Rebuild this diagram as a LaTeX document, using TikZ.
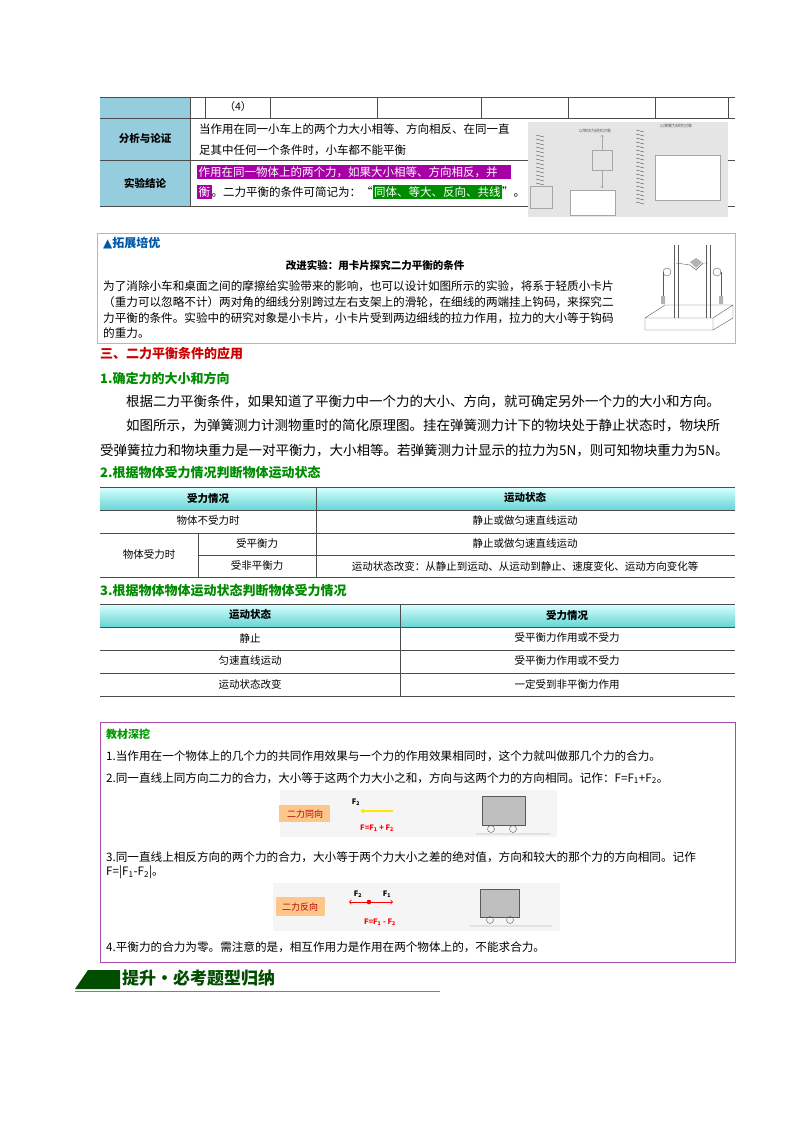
\documentclass[tikz,border=0pt]{standalone}
\usepackage{fontspec}
\setmainfont{Noto Sans CJK SC}
\newfontfamily\sym{DejaVu Sans}
\definecolor{lblue}{RGB}{150,205,222}
\colorlet{hlv}{violet!70!magenta}
\colorlet{hlg}{green!55!black}
\newcommand{\hlbox}[2]{{\setlength{\fboxsep}{1.5pt}\colorbox{#1}{\textcolor{white}{#2}}}}
\begin{document}
\begin{tikzpicture}[x=1pt,y=-1pt,
 txt/.style={anchor=west,inner sep=0,font=\fontsize{11.5}{13}\selectfont},
 btxt/.style={anchor=west,inner sep=0,font=\fontsize{11.6}{13}\selectfont},
 ptxt/.style={anchor=west,inner sep=0,font=\fontsize{13.5}{16}\selectfont},
 cell/.style={anchor=center,inner sep=0,font=\fontsize{10.5}{12}\selectfont},
 hd/.style={anchor=center,inner sep=0,font=\fontsize{10.5}{12}\selectfont\bfseries},
 grn/.style={anchor=west,inner sep=0,font=\fontsize{13}{15}\selectfont\bfseries,text=green!55!black},
 tline/.style={draw=gray!60!black,line width=0.6pt}]
\useasboundingbox (0,0) rectangle (800,1132);
% ---------- top table
\fill[lblue] (100,97) rectangle (190,206);
\draw[tline] (100,97) -- (735,97) (100,118) -- (735,118) (100,160) -- (735,160) (100,206) -- (735,206);
\draw[tline] (190,97) -- (190,206);
\foreach \x in {205,270,377,481,568,655,728} \draw[tline] (\x,97) -- (\x,118);
\node[cell] (n4) at (238,107) {（4）};
\node[hd] (fx) at (145,139) {分析与论证};
\node[hd] (jl) at (145,183) {实验结论};
\node[txt] (r2a) at (199,129) {当作用在同一小车上的两个力大小相等、方向相反、在同一直};
\node[txt] (r2b) at (199,150) {足其中任何一个条件时，小车都不能平衡};
\node[txt] (r3a) at (197,172) {\hlbox{hlv}{作用在同一物体上的两个力，如果大小相等、方向相反，并\rule{0pt}{0pt}\hspace{12pt}}};
\node[txt] (r3b) at (197,192) {\hlbox{hlv}{衡}。二力平衡的条件可简记为：“\hlbox{hlg}{同体、等大、反向、共线}”。};
% picture 1
\fill[gray!20] (528,122) rectangle (728,217);
\foreach \y in {135,139,...,185} \draw[gray!70!black] (536,\y) -- (544,\y+2);
\draw[gray!70] (530,186) rectangle (552,208);
\draw[gray!70] (592,150) rectangle (612,170);
\draw[gray!70,->] (602,150) -- (602,135);
\draw[gray!70,->] (602,170) -- (602,188);
\foreach \y in {130,134,...,205} \draw[gray!70!black] (636,\y) -- (644,\y+2);
\draw[gray!70,fill=white] (655,155) rectangle (720,200);
\draw[gray!70,fill=white] (570,190) rectangle (615,215);
\node[anchor=center,inner sep=0,font=\fontsize{4}{5}\selectfont,text=gray!70!black] (pl1) at (595,131) {以物块为研究对象};
\node[anchor=center,inner sep=0,font=\fontsize{4}{5}\selectfont,text=gray!70!black] (pl2) at (676,126) {以弹簧为研究对象};
% ---------- box 2
\draw[orange!70,line width=0.8pt] (97,233) rectangle (735,343);
\node[anchor=west,inner sep=0,font=\fontsize{12}{14}\selectfont\bfseries,text=teal!70!blue] (tz) at (103,243) {{\sym ▲}拓展培优};
\node[anchor=center,inner sep=0,font=\fontsize{10.5}{12}\selectfont\bfseries] (gj) at (375,265) {改进实验：用卡片探究二力平衡的条件};
\node[btxt] (p1) at (103,286) {为了消除小车和桌面之间的摩擦给实验带来的影响，也可以设计如图所示的实验，将系于轻质小卡片};
\node[btxt] (p2) at (103,302) {（重力可以忽略不计）两对角的细线分别跨过左右支架上的滑轮，在细线的两端挂上钩码，来探究二};
\node[btxt] (p3) at (103,318) {力平衡的条件。实验中的研究对象是小卡片，小卡片受到两边细线的拉力作用，拉力的大小等于钩码};
\node[btxt] (p4) at (103,333) {的重力。};
% apparatus
\draw[gray!70!black] (645,318) -- (665,305) -- (733,305) -- (733,318) -- (713,330) -- (645,330) -- cycle (645,318) -- (713,318) -- (733,305) (713,318) -- (713,330);
\draw[gray!70!black] (674,245) -- (674,318) (678,245) -- (678,318) (706,245) -- (706,318) (710,245) -- (710,318);
\draw[gray!70!black] (676,263) -- (690,265) -- (696,270) -- (703,263) -- (708,263);
\fill[gray!60] (690,262) -- (696,258) -- (702,262) -- (696,268) -- cycle;
\draw[gray!70!black] (667,272) circle (4) (717,272) circle (4);
\draw[gray!70!black] (663,272) -- (663,300) (721,272) -- (721,300);
\fill[gray!60] (661,296) rectangle (665,304) (719,296) rectangle (723,304);
% ---------- section 3
\node[anchor=west,inner sep=0,font=\fontsize{13}{15}\selectfont\bfseries,text=red!80!black] (s3) at (100,354) {三、二力平衡条件的应用};
\node[grn] (s31) at (100,378) {1.确定力的大小和方向};
\node[ptxt] (q1) at (126,402) {根据二力平衡条件，如果知道了平衡力中一个力的大小、方向，就可确定另外一个力的大小和方向。};
\node[ptxt] (q2) at (126,426) {如图所示，为弹簧测力计测物重时的简化原理图。挂在弹簧测力计下的物块处于静止状态时，物块所};
\node[ptxt] (q3) at (100,450) {受弹簧拉力和物块重力是一对平衡力，大小相等。若弹簧测力计显示的拉力为5N，则可知物块重力为5N。};
\node[grn] (s32) at (100,473) {2.根据物体受力情况判断物体运动状态};
% table 2
\shade[top color=cyan!15!white,bottom color=cyan!45!teal!60!white] (100,487) rectangle (735,510);
\draw[tline] (100,487) -- (735,487) (100,510) -- (735,510) (100,533) -- (735,533) (198,555) -- (735,555) (100,577) -- (735,577);
\draw[tline] (316,487) -- (316,577) (198,533) -- (198,577);
\node[hd] (h21) at (208,498) {受力情况};
\node[hd] (h22) at (525,498) {运动状态};
\node[cell] (c1) at (208,521) {物体不受力时};
\node[cell] (c2) at (525,521) {静止或做匀速直线运动};
\node[cell] (c3) at (149,555) {物体受力时};
\node[cell] (c4) at (257,544) {受平衡力};
\node[cell] (c5) at (525,544) {静止或做匀速直线运动};
\node[cell] (c6) at (257,566) {受非平衡力};
\node[cell] (c7) at (525,566) {运动状态改变：从静止到运动、从运动到静止、速度变化、运动方向变化等};
\node[grn] (s33) at (100,591) {3.根据物体物体运动状态判断物体受力情况};
% table 3
\shade[top color=cyan!15!white,bottom color=cyan!45!teal!60!white] (100,604) rectangle (735,627);
\draw[tline] (100,604) -- (735,604) (100,627) -- (735,627) (100,650) -- (735,650) (100,673) -- (735,673) (100,696) -- (735,696);
\draw[tline] (400,604) -- (400,696);
\node[hd] (h31) at (250,615) {运动状态};
\node[hd] (h32) at (567,615) {受力情况};
\node[cell] (d1) at (250,638) {静止};
\node[cell] (d2) at (567,638) {受平衡力作用或不受力};
\node[cell] (d3) at (250,661) {匀速直线运动};
\node[cell] (d4) at (567,661) {受平衡力作用或不受力};
\node[cell] (d5) at (250,684) {运动状态改变};
\node[cell] (d6) at (567,684) {一定受到非平衡力作用};
% ---------- box 3
\draw[violet!70,line width=1pt] (100,722) rectangle (735,962);
\node[anchor=west,inner sep=0,font=\fontsize{11}{13}\selectfont\bfseries,text=green!60!black] (jc) at (106,734) {教材深挖};
\node[btxt] (k1) at (106,756) {1.当作用在一个物体上的几个力的共同作用效果与一个力的作用效果相同时，这个力就叫做那几个力的合力。};
\node[btxt] (k2) at (106,778) {2.同一直线上同方向二力的合力，大小等于这两个力大小之和，方向与这两个力的方向相同。记作：F=F\textsubscript{1}+F\textsubscript{2}。};
\node[btxt] (k3) at (106,857) {3.同一直线上相反方向的两个力的合力，大小等于两个力大小之差的绝对值，方向和较大的那个力的方向相同。记作};
\node[btxt] (k3b) at (106,872) {F=|F\textsubscript{1}-F\textsubscript{2}|。};
\node[btxt] (k4) at (106,947) {4.平衡力的合力为零。需注意的是，相互作用力是作用在两个物体上的，不能求合力。};
% image 1
\fill[gray!8] (280,790) rectangle (557,837);
\fill[orange!45] (279,805) rectangle (330,822);
\node[anchor=center,inner sep=0,font=\fontsize{9}{10}\selectfont,text=red!70!black] (tx1) at (305,814) {二力同向};
\node[anchor=center,inner sep=0,font=\fontsize{7.5}{9}\selectfont\bfseries] (f2a) at (356,802) {F\textsubscript{2}};
\draw[yellow!90!orange,line width=1.2pt] (363,811) -- (393,811);
\fill[yellow!90!orange] (363,811) circle (2);
\node[anchor=center,inner sep=0,font=\fontsize{7.5}{9}\selectfont\bfseries,text=red] (eq1) at (377,828) {F=F\textsubscript{1} + F\textsubscript{2}};
\fill[gray!50] (482,796) rectangle (525,825);
\draw[gray!70!black] (482,796) rectangle (525,825);
\draw[gray!70!black] (491,829) circle (3.5) (513,829) circle (3.5) (476,834) -- (550,834);
% image 2
\fill[gray!8] (273,883) rectangle (560,931);
\fill[orange!45] (276,897) rectangle (325,916);
\node[anchor=center,inner sep=0,font=\fontsize{9}{10}\selectfont,text=red!70!black] (tx2) at (300,907) {二力反向};
\node[anchor=center,inner sep=0,font=\fontsize{7.5}{9}\selectfont\bfseries] (f2b) at (358,894) {F\textsubscript{2}};
\node[anchor=center,inner sep=0,font=\fontsize{7.5}{9}\selectfont\bfseries] (f1b) at (387,894) {F\textsubscript{1}};
\coordinate (ctr) at (369,902);
\coordinate (lt) at (349,902);
\coordinate (rt) at (393,902);
\draw[red,->,line width=0.8pt] (ctr) -- (lt);
\draw[red,->,line width=0.8pt] (ctr) -- (rt);
\fill[red] (ctr) circle (2.3);
\node[anchor=center,inner sep=0,font=\fontsize{7.5}{9}\selectfont\bfseries,text=red] (eq2) at (380,922) {F=F\textsubscript{1} - F\textsubscript{2}};
\fill[gray!50] (480,889) rectangle (519,917);
\draw[gray!70!black] (480,889) rectangle (519,917);
\draw[gray!70!black] (490,920) circle (3.5) (510,920) circle (3.5) (470,926) -- (552,926);
% ---------- footer
\fill[green!30!black] (75,989) -- (88,970) -- (120,970) -- (120,989) -- cycle;
\draw[green!30!black!60,line width=0.6pt] (75,991) -- (440,991);
\node[anchor=west,inner sep=0,font=\fontsize{17}{19}\selectfont\bfseries,text=green!30!black] (ft) at (122,978) {提升·必考题型归纳};
\end{tikzpicture}
\end{document}
